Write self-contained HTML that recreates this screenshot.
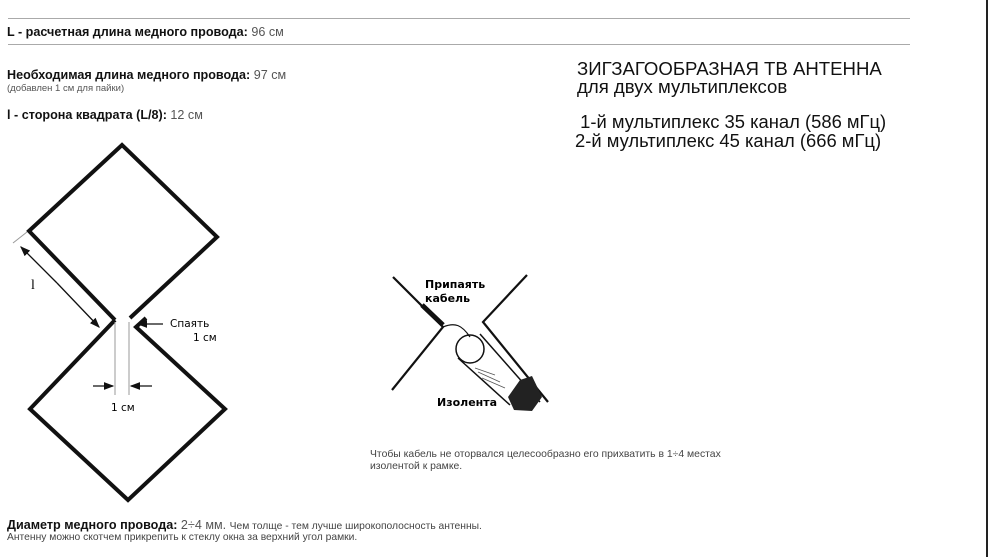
<!DOCTYPE html>
<html><head><meta charset="utf-8"><style>
body{margin:0;width:989px;height:557px;background:#fff;position:relative;overflow:hidden;font-family:"Liberation Sans",Arial,sans-serif;color:#111}
.t{position:absolute;white-space:nowrap}
.b{font-weight:bold}
.g{color:#555;font-weight:normal}
</style></head><body>
<div style="position:absolute;left:8px;top:18px;width:902px;height:1px;background:#aaa"></div>
<div style="position:absolute;left:8px;top:44px;width:902px;height:1px;background:#aaa"></div>
<div style="position:absolute;left:986px;top:0;width:2px;height:557px;background:#222"></div>
<div class="t b" style="left:7px;top:25px;font-size:12.6px">L - расчетная длина медного провода: <span class="g">96 см</span></div>
<div class="t b" style="left:7px;top:68px;font-size:12.6px">Необходимая длина медного провода: <span class="g">97 см</span></div>
<div class="t" style="left:7px;top:83px;font-size:9.5px;color:#555">(добавлен 1 см для пайки)</div>
<div class="t b" style="left:7px;top:108px;font-size:12.6px">l - сторона квадрата (L/8): <span class="g">12 см</span></div>
<div class="t" style="left:577px;top:60px;font-size:18.6px;line-height:18px">ЗИГЗАГООБРАЗНАЯ ТВ АНТЕННА<br>для двух мультиплексов</div>
<div class="t" style="left:575px;top:112px;font-size:18.4px;line-height:19px">&nbsp;1-й мультиплекс 35 канал (586 мГц)<br>2-й мультиплекс 45 канал (666 мГц)</div>
<div class="t" style="left:370px;top:449px;font-size:10.4px;color:#444;line-height:12px">Чтобы кабель не оторвался целесообразно его прихватить в 1÷4 местах<br>изолентой к рамке.</div>
<div class="t b" style="left:7px;top:518px;font-size:12.6px">Диаметр медного провода: <span class="g">2÷4 мм.</span> <span style="font-size:10.3px;color:#444;font-weight:normal">Чем толще - тем лучше широкополосность антенны.</span></div>
<div class="t" style="left:7px;top:532px;font-size:10.3px;color:#444">Антенну можно скотчем прикрепить к стеклу окна за верхний угол рамки.</div>
<svg width="989" height="557" style="position:absolute;left:0;top:0">
<defs><marker id="a" markerWidth="8" markerHeight="8" refX="7" refY="4" orient="auto"><path d="M0,1 L8,4 L0,7z" fill="#111"/></marker></defs>
<g fill="none" stroke="#111" stroke-width="4" stroke-linejoin="miter">
<polyline points="115,320 29,231 122,145 217,237 130,318"/>
<polyline points="115,320 30,409 128,500 225,409 136,327 146,318"/>
</g>
<g stroke="#999" stroke-width="1"><line x1="115" y1="322" x2="115" y2="395"/><line x1="129" y1="322" x2="129" y2="395"/><line x1="13" y1="243" x2="27" y2="232"/></g>
<g stroke="#111" stroke-width="1.3">
<line x1="93" y1="386" x2="113" y2="386" marker-end="url(#a)"/>
<line x1="152" y1="386" x2="131" y2="386" marker-end="url(#a)"/>
<line x1="163" y1="324" x2="138" y2="324" marker-end="url(#a)"/>
<line x1="57" y1="283" x2="21" y2="247" marker-end="url(#a)"/>
<line x1="57" y1="283" x2="99" y2="327" marker-end="url(#a)"/>
</g>
<text x="31" y="289" font-family="Liberation Serif,serif" font-size="14">l</text>
<text x="170" y="327" font-family="DejaVu Sans,sans-serif" font-size="10.5">Спаять</text>
<text x="193" y="341" font-family="DejaVu Sans,sans-serif" font-size="10.5">1 см</text>
<text x="111" y="411" font-family="DejaVu Sans,sans-serif" font-size="10.5">1 см</text>
<g fill="none" stroke="#111" stroke-width="2.2">
<polyline points="393,277 443,327 392,390"/>
<polyline points="527,275 483,322 548,402"/>
<line x1="480" y1="334" x2="540" y2="402" stroke-width="1.5"/>
<path d="M443,327 C455,322 462,325 470,337" stroke-width="1.2"/>
<circle cx="470" cy="349" r="14" stroke-width="1.5"/>
<line x1="458" y1="358" x2="510" y2="405" stroke-width="1.5"/>
</g>
<line x1="422" y1="305" x2="443" y2="325" stroke="#111" stroke-width="5"/>
<path d="M508,397 L520,380 L532,376 L542,397 L532,411 L514,410z" fill="#222"/>
<g stroke="#555" stroke-width="0.8"><line x1="475" y1="368" x2="495" y2="375"/><line x1="478" y1="372" x2="500" y2="382"/><line x1="482" y1="378" x2="505" y2="388"/></g>
<text x="425" y="288" font-family="DejaVu Sans,sans-serif" font-size="11" font-weight="bold">Припаять</text>
<text x="425" y="302" font-family="DejaVu Sans,sans-serif" font-size="11" font-weight="bold">кабель</text>
<text x="437" y="406" font-family="DejaVu Sans,sans-serif" font-size="11" font-weight="bold">Изолента</text>
</svg>
</body></html>
